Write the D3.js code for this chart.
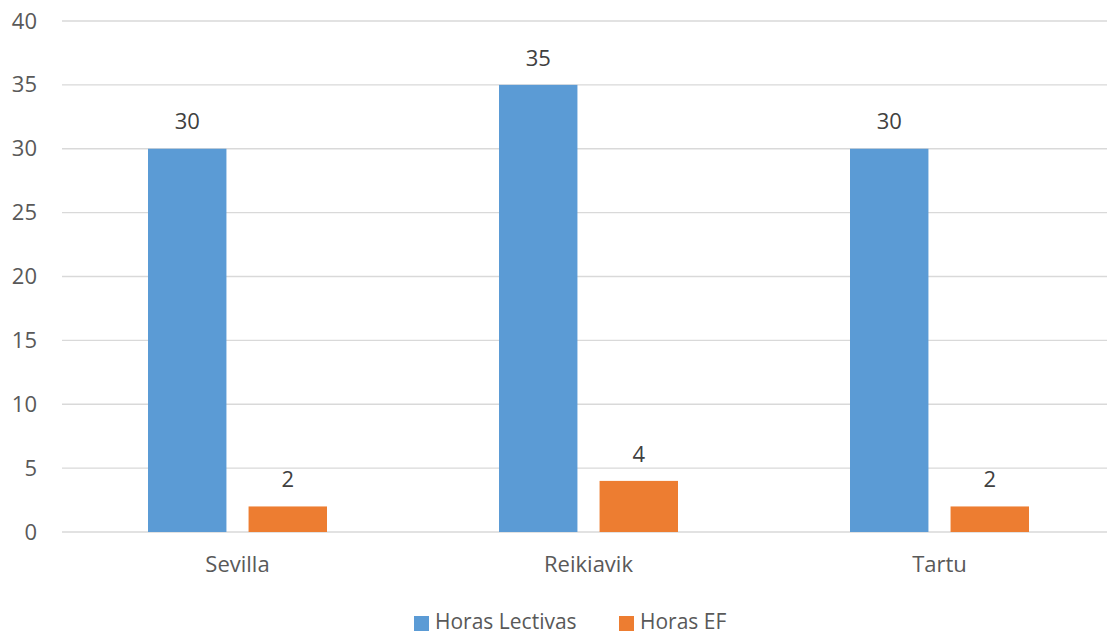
<!DOCTYPE html>
<html>
<head>
<meta charset="utf-8">
<script src="https://cdn.jsdelivr.net/npm/d3@7"></script>
<style>
  html, body { margin: 0; padding: 0; background: #fff; }
  svg { display: block; font-family: "Open Sans", "Noto Sans", sans-serif; }
</style>
</head>
<body>
<svg id="chart" width="1107" height="636"></svg>
<script>
// Weekly hours per city
const categories = ["Sevilla", "Reikiavik", "Tartu"];
const seriesNames = ["Horas Lectivas", "Horas EF"];
const horasLectivas = [30, 35, 30];
const horasEF = [2, 4, 2];
const yTicks = [0, 5, 10, 15, 20, 25, 30, 35, 40];
const colors = ["#5b9bd5", "#ed7d31"];

const seriesValues = [horasLectivas, horasEF];
const svg = d3.select("#chart");
const FONT = 22;

const x0 = d3.scaleBand().domain(categories).range([62, 1115]).paddingInner(0).paddingOuter(0);
const x1 = d3.scaleBand().domain(seriesNames).range([86, 265]).paddingInner(0.22).paddingOuter(0);
const y = d3.scaleLinear().domain([0, 40]).range([532, 21]);

// Gridlines
svg.append("g").selectAll("line").data(yTicks).join("line")
  .attr("x1", 62).attr("x2", 1107)
  .attr("y1", d => y(d)).attr("y2", d => y(d))
  .attr("stroke", "#d9d9d9").attr("stroke-width", 1.3);

// Y axis labels
const yAxis = d3.axisLeft(y).tickValues(yTicks).tickSize(0).tickPadding(0);
const gy = svg.append("g").attr("transform", "translate(37,0)").call(yAxis);
gy.select(".domain").remove();
gy.selectAll("text").attr("font-size", FONT).attr("fill", "#595959")
  .attr("font-family", "\"Open Sans\", sans-serif");

// Bars
const groups = svg.append("g").selectAll("g").data(categories).join("g")
  .attr("transform", d => `translate(${x0(d)},0)`);

groups.selectAll("rect")
  .data((c, i) => seriesNames.map((s, k) => ({ s, k, v: seriesValues[k][i] })))
  .join("rect")
  .attr("x", d => x1(d.s))
  .attr("width", x1.bandwidth())
  .attr("y", d => y(d.v))
  .attr("height", d => y(0) - y(d.v))
  .attr("fill", d => colors[d.k]);

// Value labels
groups.selectAll("text")
  .data((c, i) => seriesNames.map((s, k) => ({ s, k, v: seriesValues[k][i] })))
  .join("text")
  .attr("x", d => x1(d.s) + x1.bandwidth() / 2)
  .attr("y", d => y(d.v) - 27)
  .attr("dy", "0.35em")
  .attr("text-anchor", "middle")
  .attr("font-size", FONT)
  .attr("fill", "#404040")
  .text(d => d.v);

// Category labels
const xAxis = d3.axisBottom(x0).tickSize(0).tickPadding(0);
const gx = svg.append("g").attr("transform", "translate(0,556)").call(xAxis);
gx.select(".domain").remove();
gx.selectAll("text").attr("font-size", FONT).attr("fill", "#595959")
  .attr("font-family", "\"Open Sans\", sans-serif");

// Legend
const legendX = [414, 619];
const legend = svg.append("g").selectAll("g").data(seriesNames).join("g")
  .attr("transform", (d, i) => `translate(${legendX[i]},616)`);
legend.append("rect").attr("width", 15).attr("height", 15).attr("fill", (d, i) => colors[i]);
legend.append("text").attr("x", 21).attr("y", 6).attr("dy", "0.35em")
  .attr("font-size", 21).attr("fill", "#595959").text(d => d);
</script>
</body>
</html>
